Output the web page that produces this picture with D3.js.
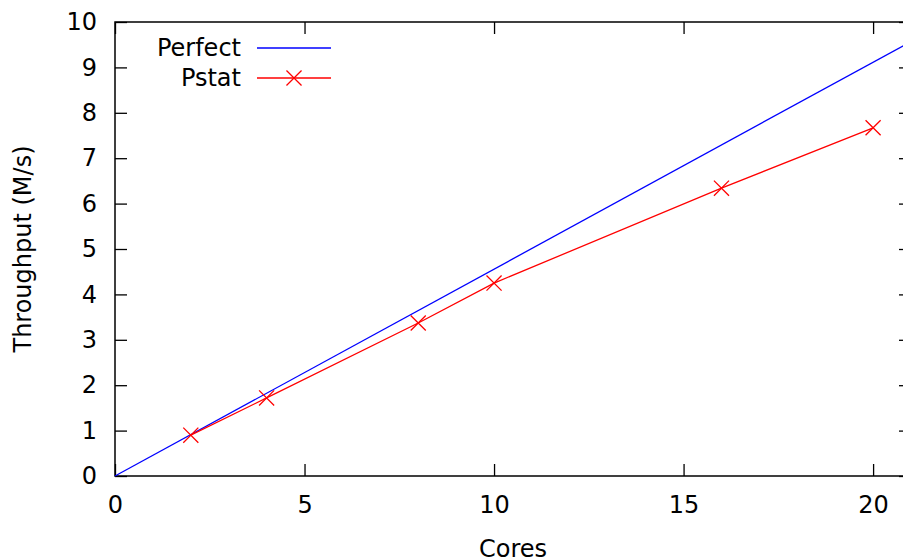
<!DOCTYPE html>
<html>
<head>
<meta charset="utf-8">
<script src="https://cdn.jsdelivr.net/npm/d3@7"></script>
<style>
  body { margin: 0; background: #fff; }
  text { font-family: "DejaVu Sans", sans-serif; font-size: 24px; fill: #000; }
</style>
</head>
<body>
<div id="chart"></div>
<script>
// data
var perfectCores = [0, 21],
    perfectValues = [0, 9.57];
var pstatCores = [2, 4, 8, 10, 16, 20],
    pstatValues = [0.90, 1.72, 3.37, 4.25, 6.34, 7.67];
var xTicks = [0, 5, 10, 15, 20],
    yTicks = [0, 1, 2, 3, 4, 5, 6, 7, 8, 9, 10];

var width = 903,
    height = 559,
    margin = {top: 22, right: -8, bottom: 83, left: 115},
    innerWidth = width - margin.left - margin.right,
    innerHeight = height - margin.top - margin.bottom;

var svg = d3.select("#chart").append("svg")
    .attr("width", width)
    .attr("height", height);

var g = svg.append("g")
    .attr("transform", "translate(" + margin.left + "," + margin.top + ")");

var x = d3.scaleLinear().domain([0, 21]).range([0, innerWidth]),
    y = d3.scaleLinear().domain([0, 10]).range([innerHeight, 0]);

var tick = 12;

// axes, ticks pointing inward, mirrored on top/right
g.append("g")
    .attr("transform", "translate(0," + innerHeight + ")")
    .call(d3.axisBottom(x).tickValues(xTicks).tickSizeInner(-tick).tickSizeOuter(0).tickPadding(20));
g.append("g")
    .call(d3.axisTop(x).tickValues(xTicks).tickSizeInner(-tick).tickSizeOuter(0).tickFormat(""));
g.append("g")
    .call(d3.axisLeft(y).tickValues(yTicks).tickSizeInner(-tick).tickSizeOuter(0).tickPadding(18));
g.append("g")
    .attr("transform", "translate(" + innerWidth + ",0)")
    .call(d3.axisRight(y).tickValues(yTicks).tickSizeInner(-tick).tickSizeOuter(0).tickFormat(""));

g.selectAll(".domain").remove();
g.selectAll(".tick line").attr("stroke", "#000").attr("stroke-width", 1.3);
g.selectAll(".tick text").style("font-size", "24px").attr("fill", "#000");

g.append("rect")
    .attr("width", innerWidth)
    .attr("height", innerHeight)
    .attr("fill", "none")
    .attr("stroke", "#000")
    .attr("stroke-width", 1.5);

var line = d3.line()
    .x(function(d) { return x(d[0]); })
    .y(function(d) { return y(d[1]); });

g.append("path")
    .datum(d3.zip(perfectCores, perfectValues))
    .attr("d", line)
    .attr("fill", "none")
    .attr("stroke", "#0000ff")
    .attr("stroke-width", 1.3);

var pstat = d3.zip(pstatCores, pstatValues);
g.append("path")
    .datum(pstat)
    .attr("d", line)
    .attr("fill", "none")
    .attr("stroke", "#ff0000")
    .attr("stroke-width", 1.3);

var cross = d3.symbol().type(d3.symbolTimes).size(150);
g.selectAll(".pt")
    .data(pstat)
    .enter().append("path")
    .attr("class", "pt")
    .attr("transform", function(d) { return "translate(" + x(d[0]) + "," + y(d[1]) + ")"; })
    .attr("d", cross)
    .attr("fill", "none")
    .attr("stroke", "#ff0000")
    .attr("stroke-width", 1.3);

// legend
var legend = svg.append("g");
var entries = [
    {label: "Perfect", color: "#0000ff", mark: false},
    {label: "Pstat", color: "#ff0000", mark: true}
];
var le = legend.selectAll("g").data(entries).enter().append("g")
    .attr("transform", function(d, i) { return "translate(0," + (48 + i * 30) + ")"; });
le.append("text")
    .attr("x", 241)
    .attr("dy", "0.35em")
    .attr("text-anchor", "end")
    .text(function(d) { return d.label; });
le.append("line")
    .attr("x1", 257).attr("x2", 331)
    .attr("stroke", function(d) { return d.color; })
    .attr("stroke-width", 1.3);
le.filter(function(d) { return d.mark; }).append("path")
    .attr("transform", "translate(294,0)")
    .attr("d", cross)
    .attr("fill", "none")
    .attr("stroke", "#ff0000")
    .attr("stroke-width", 1.3);

// axis titles
svg.append("text")
    .attr("x", margin.left + innerWidth / 2)
    .attr("y", 549)
    .attr("dy", "0.35em")
    .attr("text-anchor", "middle")
    .text("Cores");
svg.append("text")
    .attr("transform", "translate(23," + (margin.top + innerHeight / 2) + ") rotate(-90)")
    .attr("dy", "0.35em")
    .attr("text-anchor", "middle")
    .text("Throughput (M/s)");
</script>
</body>
</html>
